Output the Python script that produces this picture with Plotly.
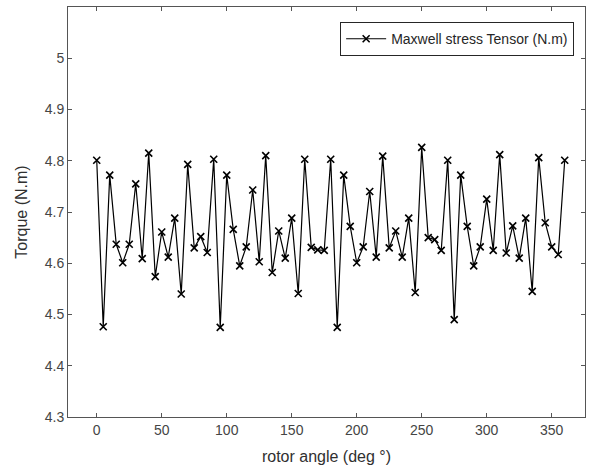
import plotly.graph_objects as go

angles = list(range(0, 361, 5))
torque = [
    4.801, 4.476, 4.772, 4.637, 4.601, 4.637, 4.755, 4.609, 4.815, 4.574,
    4.661, 4.612, 4.688, 4.540, 4.793, 4.630, 4.652, 4.621, 4.803, 4.475,
    4.772, 4.666, 4.595, 4.632, 4.743, 4.603, 4.810, 4.582, 4.663, 4.610,
    4.688, 4.541, 4.803, 4.631, 4.626, 4.625, 4.803, 4.475, 4.772, 4.672,
    4.601, 4.632, 4.740, 4.612, 4.809, 4.630, 4.663, 4.612, 4.688, 4.543,
    4.826, 4.650, 4.646, 4.625, 4.801, 4.490, 4.772, 4.672, 4.595, 4.632,
    4.725, 4.625, 4.812, 4.620, 4.673, 4.610, 4.688, 4.545, 4.806, 4.679,
    4.632, 4.617, 4.801,
]
x_ticks = [0, 50, 100, 150, 200, 250, 300, 350]
y_ticks = [4.3, 4.4, 4.5, 4.6, 4.7, 4.8, 4.9, 5.0]
y_tick_labels = ["4.3", "4.4", "4.5", "4.6", "4.7", "4.8", "4.9", "5"]

fig = go.Figure()
fig.add_trace(go.Scatter(
    x=angles, y=torque, mode="lines+markers",
    name="Maxwell stress Tensor (N.m)",
    line=dict(color="black", width=1.2),
    marker=dict(symbol="x-thin", size=7, color="black",
                line=dict(color="black", width=1.6)),
))

axis_common = dict(
    showline=True, linecolor="#555555", linewidth=1, mirror="ticks",
    ticks="inside", ticklen=4, tickcolor="#555555", showgrid=False,
    zeroline=False, tickfont=dict(size=14, color="#454545"),
)
fig.update_xaxes(
    range=[-22.1, 375.6], tickvals=x_ticks,
    title=dict(text="rotor angle (deg °)", font=dict(size=16, color="#303030"), standoff=14),
    **axis_common,
)
fig.update_yaxes(
    range=[4.3, 5.1], tickvals=y_ticks, ticktext=y_tick_labels,
    title=dict(text="Torque (N.m)", font=dict(size=16, color="#303030"), standoff=13),
    **axis_common,
)
fig.update_layout(
    width=593, height=472,
    margin=dict(l=68, r=8, t=7, b=55),
    paper_bgcolor="white", plot_bgcolor="white",
    font=dict(family="Liberation Sans, Arial, sans-serif"),
    showlegend=True,
    legend=dict(
        x=0.979, y=0.963, xanchor="right", yanchor="top",
        bgcolor="white", bordercolor="#262626", borderwidth=1,
        font=dict(size=14, color="#262626"),
        itemwidth=40, tracegroupgap=0,
    ),
)
fig.write_html("out.html")
